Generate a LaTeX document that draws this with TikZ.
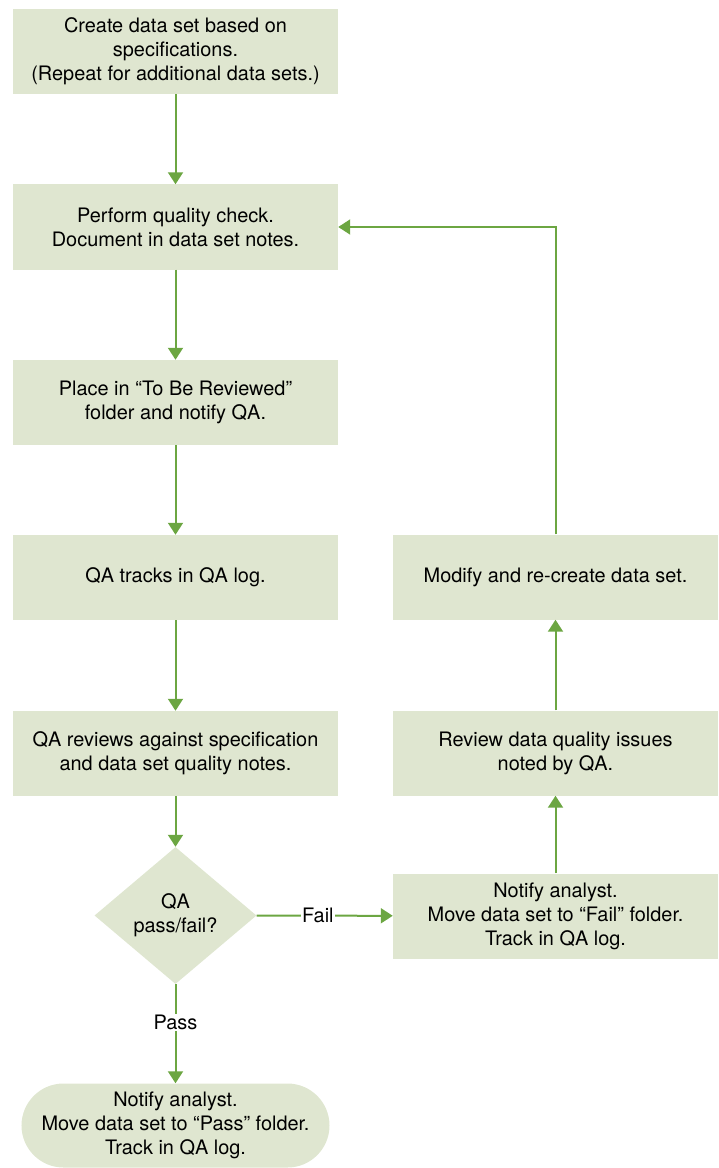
\documentclass[tikz,border=0pt]{standalone}
\usepackage{fontspec}
\setmainfont{TeX Gyre Heros}
\usepackage{tikz}
\usetikzlibrary{
  arrows.meta,
  positioning,
  shapes.geometric
}
\definecolor{qagreen}{RGB}{108,166,66}
\definecolor{qafill}{RGB}{223,230,208}
\tikzset{
  stepbox/.style={
    fill=qafill,
    align=center,
    minimum width=97.5mm,
    minimum height=25.5mm,
    inner sep=0pt,
    font=\fontsize{17}{20.5}\selectfont
  },
  choicebox/.style={
    diamond,
    fill=qafill,
    aspect=1.18,
    align=center,
    minimum width=48.6mm,
    minimum height=41.1mm,
    inner sep=0pt,
    font=\fontsize{17}{20.5}\selectfont
  },
  endbox/.style={stepbox,minimum width=92.4mm,minimum height=25.2mm,rounded corners=12.6mm},
  flowarrow/.style={-{Triangle[length=3.6mm,width=4.5mm]},line width=0.6mm,draw=qagreen},
  flowlabel/.style={fill=white,inner sep=1pt,font=\fontsize{17}{20.5}\selectfont}
}

\begin{document}
\begin{tikzpicture}[x=0.3mm,y=-0.3mm]
  \useasboundingbox (0,0) rectangle (718,1168);

  \node[stepbox] (create) at (175.5,51.5) {Create data set based on\\specifications.\\(Repeat for additional data sets.)};
  \node[stepbox] (check) at (175.5,227) {Perform quality check.\\Document in data set notes.};
  \node[stepbox] (place) at (175.5,402.5) {Place in “To Be Reviewed”\\folder and notify QA.};
  \node[stepbox] (track) at (175.5,577.5) {QA tracks in QA log.};
  \node[stepbox] (review) at (175.5,753.5) {QA reviews against specification\\and data set quality notes.};
  \node[choicebox] (decide) at (175.5,915.5) {QA\\pass/fail?};
  \node[endbox] (pass) at (175.5,1125.5) {Notify analyst.\\Move data set to “Pass” folder.\\Track in QA log.};

  \node[stepbox] (modify) at (555.5,577) {Modify and re-create data set.};
  \node[stepbox] (issues) at (555.5,753) {Review data quality issues\\noted by QA.};
  \node[stepbox] (fail) at (555.5,916) {Notify analyst.\\Move data set to “Fail” folder.\\Track in QA log.};

  \draw[flowarrow] (create) -- (check);
  \draw[flowarrow] (check) -- (place);
  \draw[flowarrow] (place) -- (track);
  \draw[flowarrow] (track) -- (review);
  \draw[flowarrow] (review) -- (decide);
  \draw[flowarrow] (decide) -- node[flowlabel,pos=0.39] {Pass} (pass);
  \draw[flowarrow] (decide) -- node[flowlabel,pos=0.45] {Fail} (fail);
  \draw[flowarrow] (fail) -- (issues);
  \draw[flowarrow] (issues) -- (modify);
  \draw[flowarrow] (modify.north) |- (check.east);
\end{tikzpicture}
\end{document}
